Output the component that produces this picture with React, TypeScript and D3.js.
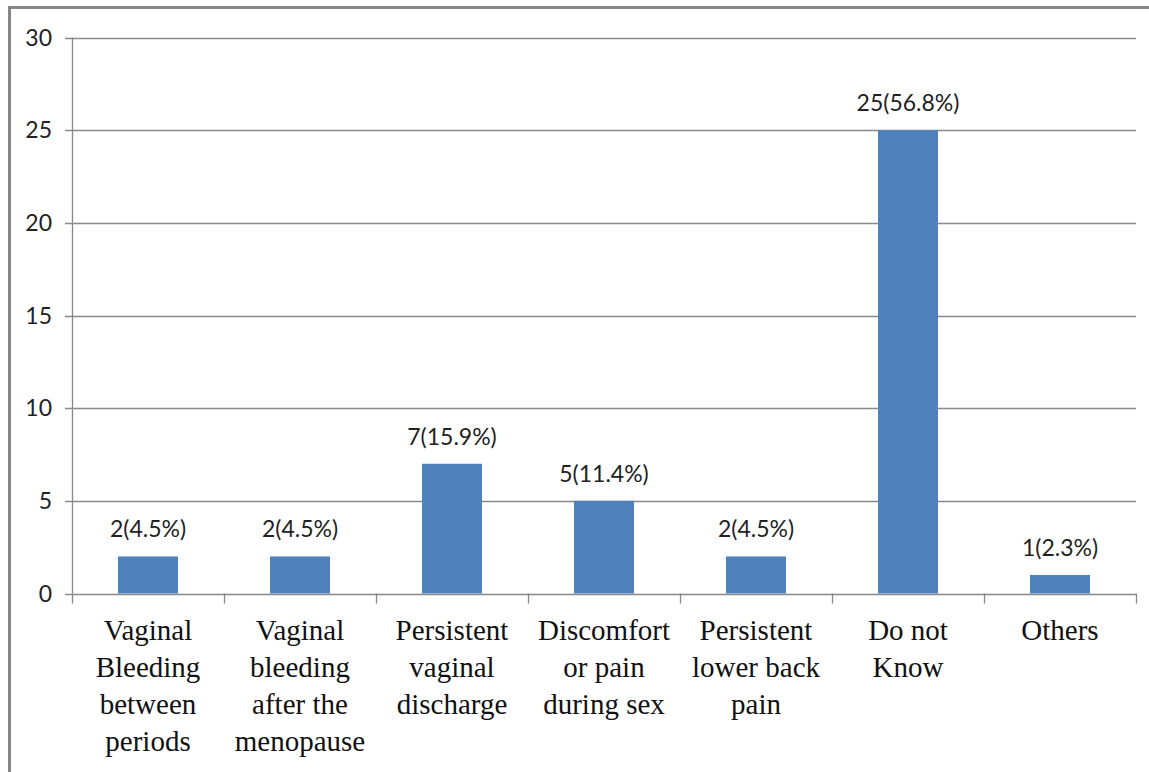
import React from "react";
import * as d3 from "d3";

const categories: string[][] = [
  ["Vaginal", "Bleeding", "between", "periods"],
  ["Vaginal", "bleeding", "after the", "menopause"],
  ["Persistent", "vaginal", "discharge"],
  ["Discomfort", "or pain", "during sex"],
  ["Persistent", "lower back", "pain"],
  ["Do not", "Know"],
  ["Others"],
];
const counts: number[] = [2, 2, 7, 5, 2, 25, 1];
const percents: string[] = ["4.5", "4.5", "15.9", "11.4", "4.5", "56.8", "2.3"];
const yTicks: number[] = [0, 5, 10, 15, 20, 25, 30];

const W = 1149;
const H = 772;
const left = 72;
const right = 1136;
const top = 37.5;
const bottom = 593.5;

export default function App() {
  const x = d3
    .scaleBand<number>()
    .domain(d3.range(categories.length))
    .range([left, right])
    .padding(0);
  const y = d3.scaleLinear().domain([0, 30]).range([bottom, top]);
  const bw = x.bandwidth() * 0.395;
  const grid = "#898989";
  const numFont = "Lato, 'Open Sans', sans-serif";
  const catFont = "'Liberation Serif', 'Times New Roman', serif";

  return (
    <svg
      width={W}
      height={H}
      style={{ position: "absolute", left: 0, top: 0, background: "#fff" }}
    >
      <rect x={0} y={0} width={W} height={H} fill="#fff" />
      <rect
        x={9.5}
        y={7.5}
        width={1300}
        height={900}
        fill="none"
        stroke="#878787"
        strokeWidth={3}
      />
      {yTicks.map((t) => (
        <g key={t}>
          <line
            x1={left - 7}
            x2={right}
            y1={Math.round(y(t)) + 0.5}
            y2={Math.round(y(t)) + 0.5}
            stroke={grid}
            strokeWidth={1.3}
          />
          <text
            x={52}
            y={y(t)}
            dy="0.36em"
            textAnchor="end"
            fontFamily={numFont}
            fontSize={23}
            fill="#222"
          >
            {t}
          </text>
        </g>
      ))}
      <line
        x1={left + 0.5}
        x2={left + 0.5}
        y1={top}
        y2={bottom}
        stroke={grid}
        strokeWidth={1.3}
      />
      {d3.range(categories.length + 1).map((i) => {
        const xx = i < categories.length ? x(i)! : right;
        return (
          <line
            key={i}
            x1={Math.round(xx) + 0.5}
            x2={Math.round(xx) + 0.5}
            y1={bottom}
            y2={bottom + 10}
            stroke={grid}
            strokeWidth={1.3}
          />
        );
      })}
      {counts.map((v, i) => {
        const cx = x(i)! + x.bandwidth() / 2;
        return (
          <g key={i}>
            <rect
              x={cx - bw / 2}
              y={y(v)}
              width={bw}
              height={y(0) - y(v)}
              fill="#4F81BD"
            />
            <text
              x={cx}
              y={y(v) - 19}
              textAnchor="middle"
              fontFamily={numFont}
              fontSize={23}
              fill="#222"
            >
              {`${v}(${percents[i]}%)`}
            </text>
            {categories[i].map((line, j) => (
              <text
                key={j}
                x={cx}
                y={640 + j * 37}
                textAnchor="middle"
                fontFamily={catFont}
                fontSize={29}
                fill="#111"
              >
                {line}
              </text>
            ))}
          </g>
        );
      })}
    </svg>
  );
}
